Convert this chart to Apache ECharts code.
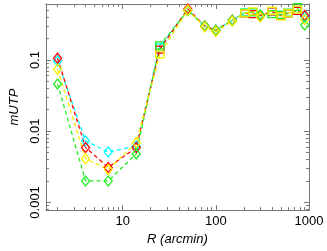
<!DOCTYPE html>
<html><head><meta charset="utf-8">
<script src="https://cdn.jsdelivr.net/npm/echarts@6/dist/echarts.min.js"></script>
<style>html,body{margin:0;padding:0;background:#fff}#c{width:327px;height:251px}</style>
</head><body><div id="c"></div>
<script>
const R = [2, 4, 7, 14, 25, 50, 76, 100, 150, 205, 250, 300, 400, 500, 590, 750, 900];
const SYM = ['d','d','d','d','s','d','d','d','d','s','s','d','s','s','s','s','d'];
const red    = [0.106, 0.0059, 0.0031, 0.0059, 0.14, 0.52, 0.30, 0.26, 0.36, 0.45, 0.44, 0.42, 0.48, 0.42, 0.45, 0.49, 0.42];
const cyan   = [0.097, 0.0073, 0.0051, 0.0062, 0.15, 0.50, 0.30, 0.26, 0.36, 0.46, 0.47, 0.42, 0.48, 0.43, 0.45, 0.50, 0.40];
const yellow = [0.074, 0.0041, 0.0029, 0.0069, 0.12, 0.50, 0.29, 0.25, 0.35, 0.45, 0.48, 0.40, 0.49, 0.41, 0.45, 0.51, 0.37];
const green  = [0.046, 0.0020, 0.0020, 0.0048, 0.16, 0.49, 0.30, 0.26, 0.36, 0.46, 0.47, 0.43, 0.44, 0.43, 0.46, 0.55, 0.31];
const xMajor = [10, 100, 1000];
const xMinor = [2,3,4,5,6,7,8,9,20,30,40,50,60,70,80,90,200,300,400,500,600,700,800,900];
const yMajor = [0.001, 0.01, 0.1];
const yMinor = [0.0008,0.0009,0.002,0.003,0.004,0.005,0.006,0.007,0.008,0.009,0.02,0.03,0.04,0.05,0.06,0.07,0.08,0.09,0.2,0.3,0.4,0.5,0.6];
const X_MIN = 1.5, X_MAX = 1000, Y_MIN = 0.00078, Y_MAX = 0.61;

const FONT = '"Liberation Sans", Arial, sans-serif';
const AX = '#777';
function fmtNum(v){ return String(+v.toPrecision(6)); }

function mkAxis(kind, pos, isMain, minor){
  const isX = kind === 'x';
  return {
    type: 'log', logBase: 10, position: pos,
    min: isX ? X_MIN : Y_MIN, max: isX ? X_MAX : Y_MAX,
    axisLine: {show: isMain, lineStyle: {color: AX, width: 1}},
    splitLine: {show: false},
    axisTick: {show: true, inside: true, length: minor ? 3 : 5,
      lineStyle: {color: AX, width: 1},
      customValues: minor ? (isX ? xMinor : yMinor) : (isX ? xMajor : yMajor)},
    axisLabel: {show: false}
  };
}

const xAxes = [
  mkAxis('x','bottom',true,false),
  mkAxis('x','bottom',false,true),
  mkAxis('x','top',true,false),
  mkAxis('x','top',false,true)
];
xAxes[0].axisLabel = {show: true, customValues: xMajor, formatter: fmtNum,
  color: '#000', fontFamily: FONT, fontSize: 13, margin: 5};
xAxes[0].name = 'R (arcmin)';
xAxes[0].nameLocation = 'middle';
xAxes[0].nameGap = 19;
xAxes[0].nameTextStyle = {color:'#000', fontFamily: FONT, fontSize: 13, fontStyle: 'italic'};

const yAxes = [
  mkAxis('y','left',true,false),
  mkAxis('y','left',false,true),
  mkAxis('y','right',true,false),
  mkAxis('y','right',false,true)
];
yAxes[0].axisLabel = {show: true, customValues: yMajor, formatter: fmtNum, rotate: 90,
  color: '#000', fontFamily: FONT, fontSize: 13, margin: 4};
yAxes[0].name = 'mUTP';
yAxes[0].nameLocation = 'middle';
yAxes[0].nameGap = 17;
yAxes[0].nameTextStyle = {color:'#000', fontFamily: FONT, fontSize: 13, fontStyle: 'italic'};

function symFn(v, p){ return SYM[p.dataIndex] === 'd' ? 'diamond' : 'rect'; }
function sizeFn(v, p){ return SYM[p.dataIndex] === 'd' ? [8, 10] : [8, 7]; }

function mkSeries(name, vals, color){
  return {
    name, type: 'line', xAxisIndex: 0, yAxisIndex: 0,
    data: R.map((r, i) => [r, vals[i]]),
    symbol: symFn, symbolSize: sizeFn, showAllSymbol: true,
    lineStyle: {color, width: 1.3, type: [4, 3]},
    itemStyle: {color: 'rgba(0,0,0,0)', borderColor: color, borderWidth: 1.3},
    emphasis: {disabled: true}, animation: false, z: 2
  };
}

const chart = echarts.init(document.getElementById('c'), null, {renderer: 'canvas'});
chart.setOption({
  animation: false,
  backgroundColor: '#fff',
  grid: {left: 34, right: 18, top: 4, bottom: 30, containLabel: false},
  xAxis: xAxes,
  yAxis: yAxes,
  series: [
    mkSeries('cyan', cyan, '#00ffff'),
    mkSeries('red', red, '#ff0000'),
    mkSeries('green', green, '#22ee22'),
    mkSeries('yellow', yellow, '#ffee00')
  ]
});
</script></body></html>
